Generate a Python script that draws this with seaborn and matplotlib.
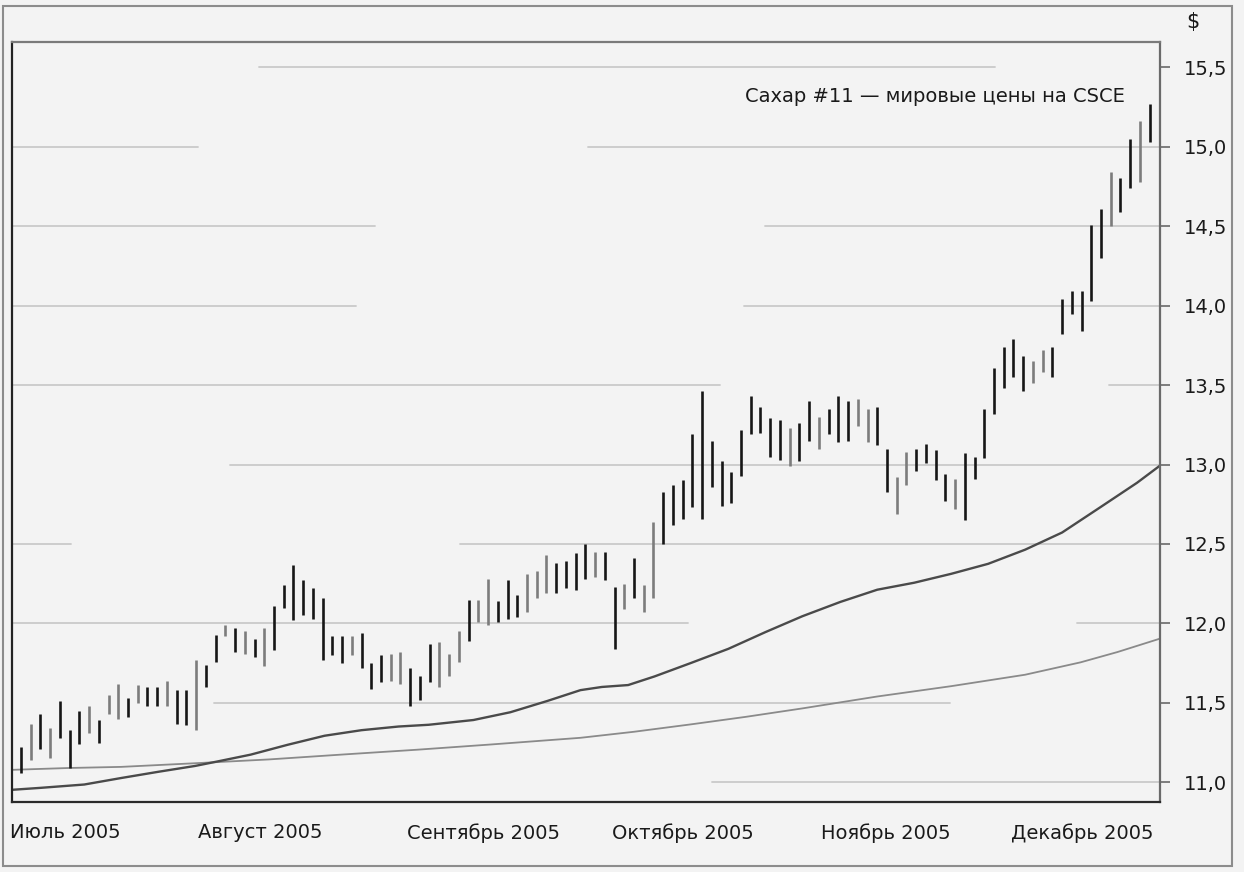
import matplotlib
matplotlib.use("Agg")
import matplotlib.pyplot as plt
from matplotlib.patches import Rectangle
from matplotlib.ticker import FuncFormatter
import numpy as np
import seaborn as sns

# daily high / low, cents per pound (Jun 24 .. Dec 2005)
high = [11.22, 11.37, 11.43, 11.34, 11.51, 11.33, 11.45, 11.48, 11.39, 11.55,
        11.62, 11.53, 11.61, 11.60, 11.60, 11.64, 11.58, 11.58, 11.77, 11.74,
        11.93, 11.99, 11.97, 11.95, 11.90, 11.97, 12.11, 12.24, 12.37, 12.27,
        12.22, 12.16, 11.92, 11.92, 11.92, 11.94, 11.75, 11.80, 11.81, 11.82,
        11.72, 11.67, 11.87, 11.88, 11.81, 11.95, 12.15, 12.15, 12.28, 12.14,
        12.27, 12.18, 12.31, 12.33, 12.43, 12.38, 12.39, 12.44, 12.50, 12.45,
        12.45, 12.23, 12.25, 12.41, 12.24, 12.64, 12.83, 12.87, 12.90, 13.19,
        13.46, 13.15, 13.02, 12.95, 13.22, 13.43, 13.36, 13.29, 13.28, 13.23,
        13.26, 13.40, 13.30, 13.35, 13.43, 13.40, 13.41, 13.35, 13.36, 13.10,
        12.92, 13.08, 13.10, 13.13, 13.09, 12.94, 12.91, 13.07, 13.05, 13.35,
        13.61, 13.74, 13.79, 13.68, 13.65, 13.72, 13.74, 14.04, 14.09, 14.09,
        14.51, 14.61, 14.84, 14.80, 15.05, 15.16, 15.27]
low = [11.06, 11.14, 11.21, 11.15, 11.28, 11.09, 11.24, 11.31, 11.25, 11.43,
       11.40, 11.41, 11.50, 11.48, 11.48, 11.48, 11.37, 11.36, 11.33, 11.60,
       11.76, 11.92, 11.82, 11.81, 11.79, 11.73, 11.83, 12.10, 12.02, 12.05,
       12.03, 11.77, 11.80, 11.75, 11.80, 11.72, 11.59, 11.63, 11.64, 11.62,
       11.48, 11.52, 11.63, 11.60, 11.67, 11.76, 11.89, 12.01, 11.99, 12.01,
       12.03, 12.04, 12.07, 12.16, 12.19, 12.19, 12.22, 12.21, 12.28, 12.29,
       12.27, 11.84, 12.09, 12.16, 12.07, 12.16, 12.50, 12.62, 12.66, 12.73,
       12.66, 12.86, 12.74, 12.76, 12.93, 13.19, 13.20, 13.05, 13.03, 12.99,
       13.02, 13.15, 13.10, 13.19, 13.14, 13.15, 13.24, 13.14, 13.12, 12.83,
       12.69, 12.87, 12.96, 13.01, 12.90, 12.77, 12.72, 12.65, 12.91, 13.04,
       13.32, 13.48, 13.55, 13.46, 13.51, 13.58, 13.55, 13.82, 13.95, 13.84,
       14.03, 14.30, 14.50, 14.59, 14.74, 14.78, 15.03]
# 1 = bar drawn in grey in the source
grey_bar = [0, 1, 0, 1, 0, 0, 0, 1, 0, 1, 1, 0, 1, 0, 0, 1, 0, 0, 1, 0,
            0, 1, 0, 1, 0, 1, 0, 0, 0, 0, 0, 0, 0, 0, 1, 0, 0, 0, 1, 1,
            0, 0, 0, 1, 1, 1, 0, 1, 1, 0, 0, 0, 1, 1, 1, 0, 0, 0, 0, 1,
            0, 0, 1, 0, 1, 1, 0, 0, 0, 0, 0, 0, 0, 0, 0, 0, 0, 0, 0, 1,
            0, 0, 1, 0, 0, 0, 1, 1, 0, 0, 1, 1, 0, 0, 0, 0, 1, 0, 0, 0,
            0, 0, 0, 0, 1, 1, 0, 0, 0, 0, 0, 0, 1, 0, 0, 1, 0]

# moving averages at these trading-day positions
short_day = [-1.1, 2.0, 6.5, 10.3, 14.1, 17.9, 20.1, 23.6, 27.4, 31.2, 35.0,
             38.8, 41.9, 46.5, 50.3, 54.1, 57.5, 59.7, 62.4, 65.1, 68.9, 72.7,
             76.5, 80.3, 84.2, 88.0, 91.8, 95.6, 99.4, 103.2, 107.0, 110.9,
             114.7, 117.1]
ma_short = [10.952, 10.965, 10.986, 11.027, 11.066, 11.103, 11.130, 11.174,
            11.236, 11.293, 11.328, 11.351, 11.362, 11.392, 11.441, 11.512,
            11.580, 11.600, 11.612, 11.666, 11.752, 11.840, 11.945, 12.045,
            12.135, 12.212, 12.256, 12.312, 12.375, 12.464, 12.572, 12.730,
            12.885, 12.995]
long_day = [-1.1, 4.9, 10.3, 17.9, 25.5, 33.1, 40.7, 48.3, 57.5, 63.0, 68.9,
            74.5, 80.3, 88.0, 95.6, 103.2, 108.9, 112.7, 117.1]
ma_long = [11.078, 11.090, 11.097, 11.120, 11.144, 11.175, 11.205, 11.238,
           11.280, 11.318, 11.365, 11.412, 11.465, 11.540, 11.605, 11.677,
           11.755, 11.820, 11.905]

month_labels = ["Июль 2005", "Август 2005", "Сентябрь 2005", "Октябрь 2005",
                "Ноябрь 2005", "Декабрь 2005"]
month_pos = [4.52, 24.56, 47.58, 68.04, 88.9, 109.04]
price_ticks = [11.0, 11.5, 12.0, 12.5, 13.0, 13.5, 14.0, 14.5, 15.0, 15.5]

title = "Сахар #11 \u2014 мировые цены на CSCE"

sns.set_theme(style="white")
plt.rcParams['font.family'] = ['DejaVu Sans']

W, H = 1244, 872
bg = "#f3f3f3"
fig = plt.figure(figsize=(W / 100, H / 100), dpi=100, facecolor=bg)
ax = fig.add_axes([12 / W, 1 - 802 / H, 1148 / W, 760 / H])
ax.set_facecolor(bg)

# broken horizontal grid, as in the source (axes-fraction spans)
grid_spans = {
    15.5: [(0.215, 0.856)],
    15.0: [(0.0, 0.162), (0.502, 1.0)],
    14.5: [(0.0, 0.316), (0.656, 1.0)],
    14.0: [(0.0, 0.300), (0.638, 1.0)],
    13.5: [(0.0, 0.617), (0.956, 1.0)],
    13.0: [(0.190, 1.0)],
    12.5: [(0.0, 0.051), (0.390, 1.0)],
    12.0: [(0.0, 0.589), (0.928, 1.0)],
    11.5: [(0.176, 0.817)],
    11.0: [(0.610, 1.0)],
}
for yv, spans in grid_spans.items():
    for a, b in spans:
        ax.axhline(yv, a, b, color="#c9c9c9", lw=1.3, zorder=0)

sns.lineplot(x=long_day, y=ma_long, ax=ax, color="#8a8a8a", lw=1.3, zorder=2)
sns.lineplot(x=short_day, y=ma_short, ax=ax, color="#4a4a4a", lw=1.7, zorder=2)

idx = np.arange(len(high))
g = np.array(grey_bar, dtype=bool)
hi = np.array(high)
lo = np.array(low)
ax.vlines(idx[~g], lo[~g], hi[~g], colors="#161616", lw=1.9, zorder=3)
ax.vlines(idx[g], lo[g], hi[g], colors="#7c7c7c", lw=1.9, zorder=3)

ax.set_xlim(-0.925, 117.06)
ax.set_ylim(10.876, 15.659)

ax.set_xticks(month_pos)
ax.set_xticklabels(month_labels)
ax.yaxis.tick_right()
ax.set_yticks(price_ticks)
ax.yaxis.set_major_formatter(FuncFormatter(lambda v, p: f"{v:.1f}".replace(".", ",")))
ax.tick_params(axis="y", direction="out", length=7.5, width=1.2, color="#6a6a6a",
               pad=10, labelsize=14, labelcolor="#1a1a1a")
ax.tick_params(axis="x", direction="out", length=6, width=1.2, color="#555555",
               pad=9, labelsize=14, labelcolor="#1a1a1a")
ax.set_xlabel("")
ax.set_ylabel("")

for side, col in [("left", "#222222"), ("bottom", "#2a2a2a"),
                  ("top", "#7a7a7a"), ("right", "#6a6a6a")]:
    ax.spines[side].set_visible(True)
    ax.spines[side].set_color(col)
    ax.spines[side].set_linewidth(1.6)

fig.text(1125 / W, 1 - 97 / H, title, ha="right", va="center",
         fontsize=14, color="#1a1a1a")
fig.text(1193 / W, 1 - 22 / H, "$", ha="center", va="center",
         fontsize=15, color="#1a1a1a")

fig.patches.append(Rectangle((3 / W, 1 - 866 / H), 1229 / W, 860 / H,
                             transform=fig.transFigure, fill=False,
                             edgecolor="#8c8c8c", lw=1.5))

fig.savefig("out.png", dpi=100, facecolor=bg)
